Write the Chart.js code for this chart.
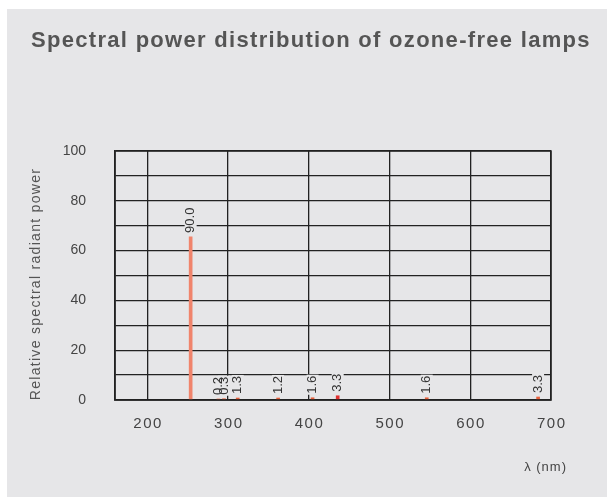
<!DOCTYPE html>
<html><head><meta charset="utf-8">
<script src="https://cdn.jsdelivr.net/npm/chart.js@4"></script>
<style>
html,body{margin:0;padding:0;background:#fff;width:607px;height:497px;overflow:hidden;}
#wrap{position:absolute;left:7px;top:9px;width:600px;height:488px;background:#e6e6e8;}
</style></head><body><div id="wrap"><canvas id="c" width="600" height="488"></canvas></div>
<script>
// Data
const wavelengths = [253.7, 288, 295, 312, 362, 404.7, 435.8, 546.1, 684];
const heights     = [65.5, 0.4, 0.5, 0.8, 0.8, 0.9, 1.7, 0.9, 1.2];
const valueLabels = ['90.0', '0.2', '0.3', '1.3', '1.2', '1.6', '3.3', '1.6', '3.3'];
const barColors   = ['#f0846c', '#e8603c', '#e8603c', '#e8603c', '#e8603c', '#e8603c', '#e03030', '#e8603c', '#e8603c'];
const xTicks = [200, 300, 400, 500, 600, 700];
const yTicks = [0, 20, 40, 60, 80, 100];
const chartTitle = 'Spectral power distribution of ozone-free lamps';
const yTitle = 'Relative spectral radiant power';
const xTitle = 'λ (nm)';

const BG = '#e6e6e8';
const FONT = "'Liberation Sans', Arial, sans-serif";

const labelPlugin = {
  id: 'valueLabels',
  afterDatasetsDraw(chart) {
    const ctx = chart.ctx;
    const meta = chart.getDatasetMeta(0);
    ctx.save();
    ctx.font = '13px ' + FONT;
    // backgrounds first, then texts so neighbouring labels don't hide each other
    [0, 1].forEach(pass => {
      meta.data.forEach((el, i) => {
        const t = valueLabels[i];
        const w = ctx.measureText(t).width;
        ctx.save();
        ctx.translate(el.x, el.y - 4);
        ctx.rotate(-Math.PI / 2);
        if (pass === 0) {
          ctx.fillStyle = BG;
          ctx.fillRect(-1, -6, w + 2, 12);
        } else {
          ctx.fillStyle = '#333';
          ctx.textAlign = 'left';
          ctx.textBaseline = 'middle';
          ctx.fillText(t, 0, 0);
        }
        ctx.restore();
      });
    });
    ctx.restore();
  }
};

const textPlugin = {
  id: 'texts',
  afterDraw(chart) {
    const ctx = chart.ctx;
    // chart title
    ctx.save();
    ctx.letterSpacing = '1.3px';
    ctx.fillStyle = '#555';
    ctx.font = 'bold 22px ' + FONT;
    ctx.textAlign = 'left';
    ctx.textBaseline = 'alphabetic';
    ctx.fillText(chartTitle, 24, 38);
    ctx.restore();
    // y axis title
    ctx.save();
    ctx.letterSpacing = '1.3px';
    ctx.fillStyle = '#555';
    ctx.font = '14px ' + FONT;
    ctx.translate(29, 275);
    ctx.rotate(-Math.PI / 2);
    ctx.textAlign = 'center';
    ctx.textBaseline = 'middle';
    ctx.fillText(yTitle, 0, 0);
    ctx.restore();
    // x tick labels (drawn at the scale's own positions)
    const xs = chart.scales.x;
    ctx.save();
    ctx.letterSpacing = '1.5px';
    ctx.fillStyle = '#444';
    ctx.font = '15px ' + FONT;
    ctx.textAlign = 'center';
    ctx.textBaseline = 'middle';
    xTicks.forEach(v => ctx.fillText(String(v), xs.getPixelForValue(v) + 0.75, xs.top + 24));
    ctx.restore();
    // x axis title
    ctx.save();
    ctx.letterSpacing = '1px';
    ctx.fillStyle = '#444';
    ctx.font = '13px ' + FONT;
    ctx.textAlign = 'right';
    ctx.textBaseline = 'middle';
    ctx.fillText(xTitle, 560, 458);
    ctx.restore();
  }
};

new Chart(document.getElementById('c'), {
  type: 'bar',
  data: {
    datasets: [{
      data: wavelengths.map((w, i) => ({ x: w, y: heights[i] })),
      backgroundColor: barColors,
      borderWidth: 0,
      barThickness: 3
    }]
  },
  options: {
    responsive: false,
    animation: false,
    layout: { padding: { left: 0, right: 56, bottom: 57, top: 142 } },
    plugins: {
      legend: { display: false },
      tooltip: { enabled: false },
      title: { display: false }
    },
    scales: {
      x: {
        type: 'linear',
        offset: false,
        min: 160, max: 700,
        afterFit(s) { s.height = 40; },
        afterBuildTicks(s) { s.ticks = xTicks.map(v => ({ value: v })); },
        grid: { color: '#222', lineWidth: 1.3, drawTicks: false, offset: false },
        border: { color: '#222', width: 1.5 },
        ticks: { display: false }
      },
      y: {
        min: 0, max: 100,
        afterFit(s) { s.width = 108; },
        ticks: {
          stepSize: 10, color: '#444', padding: 29,
          font: { family: FONT, size: 14 },
          callback: v => yTicks.includes(v) ? v : ''
        },
        grid: { color: '#222', lineWidth: 1.3, drawTicks: false },
        border: { color: '#222', width: 1.5 }
      }
    }
  },
  plugins: [labelPlugin, textPlugin, {
    id: 'frame',
    afterDatasetsDraw(chart) {
      const a = chart.chartArea, ctx = chart.ctx;
      ctx.save();
      ctx.strokeStyle = '#222';
      ctx.lineWidth = 1.5;
      ctx.strokeRect(a.left, a.top, a.right - a.left, a.bottom - a.top);
      ctx.restore();
    }
  }]
});
</script>
</body></html>
